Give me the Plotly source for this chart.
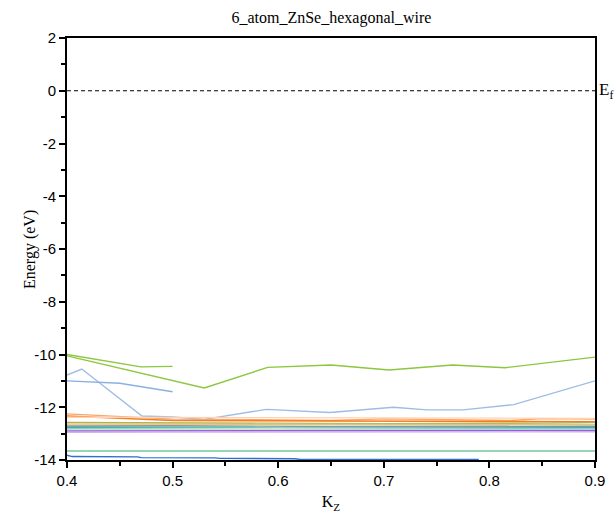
import plotly.graph_objects as go

# ---- data ----
kz_green_long = [0.4, 0.53, 0.59, 0.65, 0.705, 0.765, 0.815, 0.9]
e_green_long = [-10.05, -11.27, -10.49, -10.4, -10.59, -10.4, -10.5, -10.1]

kz_green_short = [0.4, 0.47, 0.5]
e_green_short = [-10.0, -10.47, -10.45]

kz_blue_long = [0.4, 0.414, 0.471, 0.5, 0.53, 0.589, 0.649, 0.709, 0.741, 0.775, 0.823, 0.9]
e_blue_long = [-10.78, -10.55, -12.33, -12.37, -12.46, -12.08, -12.2, -12.0, -12.1, -12.1, -11.9, -11.0]

kz_blue_short = [0.4, 0.45, 0.5]
e_blue_short = [-11.0, -11.09, -11.41]

kz_orange1 = [0.4, 0.47, 0.5, 0.65, 0.7, 0.82, 0.85, 0.9]
e_orange1 = [-12.25, -12.38, -12.45, -12.5, -12.44, -12.5, -12.43, -12.45]

kz_orange2 = [0.4, 0.45, 0.5, 0.65, 0.9]
e_orange2 = [-12.33, -12.42, -12.5, -12.52, -12.55]

kz_peach = [0.4, 0.9]
e_peach = [-12.38, -12.42]

kz_olive = [0.4, 0.5, 0.7, 0.85, 0.9]
e_olive = [-12.58, -12.6, -12.62, -12.6, -12.58]

kz_khaki = [0.4, 0.9]
e_khaki = [-12.64, -12.66]

kz_brown = [0.4, 0.5, 0.65, 0.9]
e_brown = [-12.71, -12.7, -12.73, -12.72]

kz_teal = [0.4, 0.9]
e_teal = [-12.76, -12.77]

kz_cyan = [0.4, 0.6, 0.9]
e_cyan = [-12.8, -12.78, -12.8]

kz_beige = [0.4, 0.9]
e_beige = [-12.85, -12.86]

kz_purple = [0.4, 0.9]
e_purple = [-12.9, -12.88]

kz_lavender = [0.4, 0.5, 0.9]
e_lavender = [-12.95, -12.94, -12.93]

kz_green_low = [0.4, 0.9]
e_green_low = [-13.66, -13.66]

kz_blue_low = [0.4, 0.405, 0.467, 0.47, 0.54, 0.545, 0.615, 0.62, 0.69, 0.79]
e_blue_low = [-13.82, -13.87, -13.88, -13.91, -13.92, -13.94, -13.95, -13.97, -13.98, -13.98]

kz_ef = [0.4, 0.9]
e_ef = [0, 0]

y_tickvals = [-14, -12, -10, -8, -6, -4, -2, 0, 2]
y_ticktext = ["-14", "-12", "-10", "-8", "-6", "-4", "-2", "0", "2"]
x_tickvals = [0.4, 0.5, 0.6, 0.7, 0.8, 0.9]
x_ticktext = ["0.4", "0.5", "0.6", "0.7", "0.8", "0.9"]

bands = [
    (kz_green_long, e_green_long, "#8DC63F"),
    (kz_green_short, e_green_short, "#8DC63F"),
    (kz_blue_long, e_blue_long, "#9DBDE6"),
    (kz_blue_short, e_blue_short, "#8AB0E0"),
    (kz_orange1, e_orange1, "#F7A76B"),
    (kz_orange2, e_orange2, "#F57C1F"),
    (kz_peach, e_peach, "#FFD2B3"),
    (kz_olive, e_olive, "#B4B04A"),
    (kz_khaki, e_khaki, "#D9C97A"),
    (kz_brown, e_brown, "#A88E8E"),
    (kz_teal, e_teal, "#2F9EA6"),
    (kz_cyan, e_cyan, "#5EE0E6"),
    (kz_beige, e_beige, "#E9D9A6"),
    (kz_purple, e_purple, "#9A5CD6"),
    (kz_lavender, e_lavender, "#CDB0F2"),
    (kz_green_low, e_green_low, "#72C99B"),
    (kz_blue_low, e_blue_low, "#2F6FD0"),
]

fig = go.Figure()
for x, y, c in bands:
    fig.add_trace(go.Scatter(x=x, y=y, mode="lines",
                             line=dict(color=c, width=1.4), showlegend=False,
                             hoverinfo="skip", cliponaxis=False))

fig.add_trace(go.Scatter(x=kz_ef, y=e_ef, mode="lines",
                         line=dict(color="black", width=1, dash="4px,3px"),
                         showlegend=False, hoverinfo="skip"))

fig.add_annotation(x=1, xref="paper", y=0, yref="y", text="E<sub>f</sub>",
                   showarrow=False, xanchor="left", xshift=2,
                   font=dict(family="Liberation Serif", size=17, color="black"))

fig.add_annotation(x=0, xref="paper", y=0.5, yref="paper", text="Energy (eV)",
                   textangle=-90, showarrow=False, xanchor="center", yanchor="middle",
                   xshift=-37, yshift=-1,
                   font=dict(family="Liberation Serif", size=16, color="black"))

axis_common = dict(showline=True, linecolor="black", linewidth=2, mirror=True,
                   ticks="outside", ticklen=6, tickwidth=1.5, tickcolor="black",
                   showgrid=False, zeroline=False,
                   tickfont=dict(family="Liberation Sans", size=15, color="black"),
                   minor=dict(ticks="outside", ticklen=4, tickwidth=1.5, tickcolor="black"))

fig.update_xaxes(range=[0.4, 0.9], tickmode="array", tickvals=x_tickvals, ticktext=x_ticktext,
                 minor_dtick=0.05, minor_tick0=0.4,
                 title=dict(text="K<sub>Z</sub>", standoff=8,
                            font=dict(family="Liberation Serif", size=16, color="black")),
                 **axis_common)
fig.update_yaxes(range=[-14, 2], tickmode="array", tickvals=y_tickvals, ticktext=y_ticktext,
                 minor_dtick=1, minor_tick0=0,
                 **axis_common)

fig.update_layout(
    width=616, height=520,
    margin=dict(l=67, r=21, t=38, b=60),
    plot_bgcolor="white", paper_bgcolor="white",
    title=dict(text="6_atom_ZnSe_hexagonal_wire", x=0.538, xanchor="center",
               y=0.967, yanchor="middle",
               font=dict(family="Liberation Serif", size=16, color="black")),
)

fig.write_html("out.html")
